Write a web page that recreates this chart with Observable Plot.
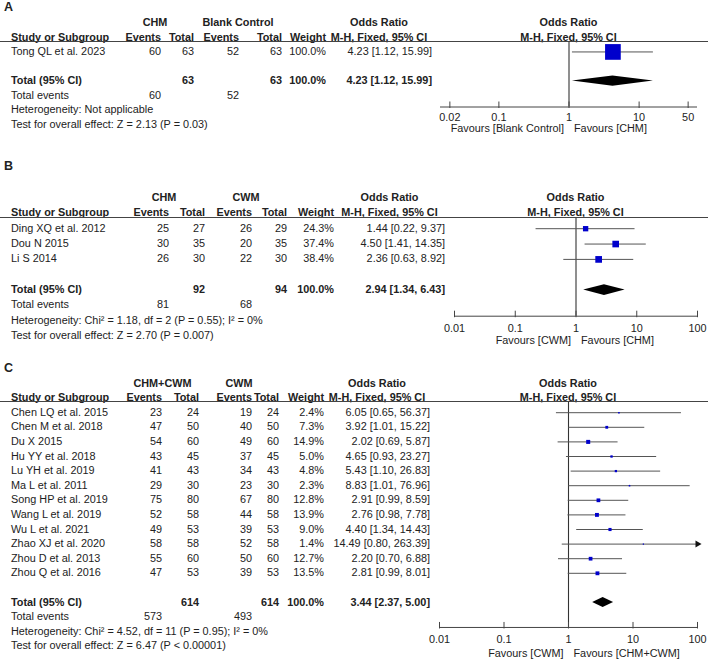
<!DOCTYPE html>
<html lang="en">
<head>
<meta charset="utf-8">
<script src="https://cdn.jsdelivr.net/npm/d3@7"></script>
<script src="https://cdn.jsdelivr.net/npm/@observablehq/plot@0.6"></script>
<style>
  html, body { margin: 0; padding: 0; background: #fff; }
  #fig { position: relative; width: 708px; height: 659px; overflow: hidden;
         font-family: "Liberation Sans", Arial, Helvetica, sans-serif; font-size: 10.85px; color: #222; }
  .panel { position: absolute; left: 0; width: 708px; }
  .panel svg { position: absolute; left: 0; top: 0; }
  .grid { position: absolute; left: 0; display: grid; width: 708px; }
  .c { white-space: nowrap; display: flex; align-items: center; }
  .r { justify-content: flex-end; }
  .m { justify-content: center; }
  .l { padding-left: 11px; }
  .b { font-weight: bold; }
  .lab { font-weight: bold; font-size: 12.5px; padding-left: 4px; }
  .hline { align-self: end; height: 0; border-bottom: 1px solid #444; margin-bottom: 2.5px; }
</style>
</head>
<body>
<div id="fig"></div>
<script>
// ================= DATA =================
// ---- Panel A : CHM vs Blank Control ----
const aLabel = "A";
const aGroups = ["CHM", "Blank Control"];
const aStudy = ["Tong QL et al. 2023"];
const aEv1 = [60];
const aN1 = [63];
const aEv2 = [52];
const aN2 = [63];
const aWeight = [100.0];
const aOR = [4.23];
const aLo = [1.12];
const aHi = [15.99];
const aPooled = [4.23, 1.12, 15.99];
const aTotalWeight = 100.0;
const aHet = "Heterogeneity: Not applicable";
const aTest = "Test for overall effect: Z = 2.13 (P = 0.03)";
const aTicks = [0.02, 0.1, 1, 10, 50];
const aFavours = ["Favours [Blank Control]", "Favours [CHM]"];

// ---- Panel B : CHM vs CWM ----
const bLabel = "B";
const bGroups = ["CHM", "CWM"];
const bStudy = ["Ding XQ et al. 2012", "Dou N 2015", "Li S 2014"];
const bEv1 = [25, 30, 26];
const bN1 = [27, 35, 30];
const bEv2 = [26, 20, 22];
const bN2 = [29, 35, 30];
const bWeight = [24.3, 37.4, 38.4];
const bOR = [1.44, 4.50, 2.36];
const bLo = [0.22, 1.41, 0.63];
const bHi = [9.37, 14.35, 8.92];
const bPooled = [2.94, 1.34, 6.43];
const bTotalWeight = 100.0;
const bHet = "Heterogeneity: Chi\u00B2 = 1.18, df = 2 (P = 0.55); I\u00B2 = 0%";
const bTest = "Test for overall effect: Z = 2.70 (P = 0.007)";
const bTicks = [0.01, 0.1, 1, 10, 100];
const bFavours = ["Favours [CWM]", "Favours [CHM]"];

// ---- Panel C : CHM+CWM vs CWM ----
const cLabel = "C";
const cGroups = ["CHM+CWM", "CWM"];
const cStudy = ["Chen LQ et al. 2015", "Chen M et al. 2018", "Du X 2015", "Hu YY et al. 2018",
  "Lu YH et al. 2019", "Ma L et al. 2011", "Song HP et al. 2019", "Wang L et al. 2019",
  "Wu L et al. 2021", "Zhao XJ et al. 2020", "Zhou D et al. 2013", "Zhou Q et al. 2016"];
const cEv1 = [23, 47, 54, 43, 41, 29, 75, 52, 49, 58, 55, 47];
const cN1 = [24, 50, 60, 45, 43, 30, 80, 58, 53, 58, 60, 53];
const cEv2 = [19, 40, 49, 37, 34, 23, 67, 44, 39, 52, 50, 39];
const cN2 = [24, 50, 60, 45, 43, 30, 80, 58, 53, 58, 60, 53];
const cWeight = [2.4, 7.3, 14.9, 5.0, 4.8, 2.3, 12.8, 13.9, 9.0, 1.4, 12.7, 13.5];
const cOR = [6.05, 3.92, 2.02, 4.65, 5.43, 8.83, 2.91, 2.76, 4.40, 14.49, 2.20, 2.81];
const cLo = [0.65, 1.01, 0.69, 0.93, 1.10, 1.01, 0.99, 0.98, 1.34, 0.80, 0.70, 0.99];
const cHi = [56.37, 15.22, 5.87, 23.27, 26.83, 76.96, 8.59, 7.78, 14.43, 263.39, 6.88, 8.01];
const cPooled = [3.44, 2.37, 5.00];
const cTotalWeight = 100.0;
const cHet = "Heterogeneity: Chi\u00B2 = 4.52, df = 11 (P = 0.95); I\u00B2 = 0%";
const cTest = "Test for overall effect: Z = 6.47 (P < 0.00001)";
const cTicks = [0.01, 0.1, 1, 10, 100];
const cFavours = ["Favours [CWM]", "Favours [CHM+CWM]"];

// ================= LAYOUT (styles only) =================
const FONT = '"Liberation Sans", Arial, Helvetica, sans-serif';
const FS = 10.85;
const layoutA = { top: 0, height: 145, y0: 22.3, pitch: 14.57, labelRow: -1,
  lineRow: 1.28, axisRow: 5.78, tickRow: 6.5, favRow: 7.25, rMax: 8.86,
  domain: [1 / 68, 68], cols: [116, 45, 33, 45, 43, 44, 106, 8, 257, 11] };
const layoutB = { top: 145, height: 200, y0: 52.5, pitch: 15.35, labelRow: -2,
  lineRow: 1.32, axisRow: 7.7, tickRow: 8.48, favRow: 9.28, rMax: 6.1,
  domain: [0.01, 100], cols: [123, 46, 36, 47, 35, 47, 111, 9, 243, 11] };
const layoutC = { top: 345, height: 314, y0: 38, pitch: 14.6, labelRow: -1,
  lineRow: 1.3, axisRow: 16.71, tickRow: 17.53, favRow: 18.49, rMax: 5.9,
  domain: [0.01, 100], cols: [126, 36, 37, 53, 27, 45, 106, 9, 258, 11] };

const fmtOR = (o, lo, hi) => `${o.toFixed(2)} [${lo.toFixed(2)}, ${hi.toFixed(2)}]`;

function makeRows(study, ev1, n1, ev2, n2, w, or, lo, hi) {
  return study.map((s, i) => ({ study: s, ev1: ev1[i], n1: n1[i], ev2: ev2[i], n2: n2[i],
    weight: w[i], or: or[i], lo: lo[i], hi: hi[i], row: i + 2 }));
}

function buildPanel(L, label, groups, rows, pooled, totalWeight, het, test, ticks, favours) {
  const fig = document.getElementById("fig");
  const panel = document.createElement("div");
  panel.className = "panel";
  panel.style.top = L.top + "px";
  panel.style.height = L.height + "px";
  fig.appendChild(panel);

  const n = rows.length;
  const totalRow = n + 3;
  const forestLeft = d3.sum(L.cols.slice(0, 8));
  const forestRight = L.cols[9];
  const xmax = L.domain[1];
  const h = 0.35;
  const diamond = [
    { x: pooled[1], y1: totalRow, y2: totalRow },
    { x: pooled[0], y1: totalRow - h, y2: totalRow + h },
    { x: pooled[2], y1: totalRow, y2: totalRow }
  ];
  const tickUp = 5 / L.pitch, tickDown = 1.5 / L.pitch;

  const svg = Plot.plot({
    width: 708, height: L.height,
    marginLeft: forestLeft, marginRight: forestRight, marginTop: 0, marginBottom: 0,
    style: { fontFamily: FONT, fontSize: FS + "px", background: "transparent", overflow: "visible" },
    x: { type: "log", domain: L.domain, axis: null },
    y: { domain: [-L.y0 / L.pitch, (L.height - L.y0) / L.pitch], reverse: true, axis: null },
    r: { domain: [0, 100], range: [0, L.rMax] },
    marks: [
      Plot.ruleX([1], { y1: L.lineRow, y2: L.axisRow, stroke: "#333", strokeWidth: 1.1 }),
      Plot.ruleY([L.axisRow], { stroke: "#444" }),
      Plot.ruleX(ticks, { x: d => d, y1: L.axisRow - tickUp, y2: L.axisRow + tickDown, stroke: "#444" }),
      Plot.text(ticks, { x: d => d, y: L.tickRow, text: d => String(d), fill: "#222", fontSize: FS }),
      Plot.text([favours[0]], { x: () => 1, y: L.favRow, text: d => d, textAnchor: "end", dx: -5, fill: "#222", fontSize: FS }),
      Plot.text([favours[1]], { x: () => 1, y: L.favRow, text: d => d, textAnchor: "start", dx: 5, fill: "#222", fontSize: FS }),
      Plot.ruleY(rows, { y: "row", x1: "lo", x2: d => Math.min(d.hi, xmax), stroke: "#555" }),
      Plot.dot(rows, { x: "or", y: "row", r: "weight", symbol: "square", fill: "#0000cc" }),
      Plot.dot(rows.filter(d => d.hi > xmax), { x: () => xmax, y: "row", symbol: "triangle", rotate: 90, r: 2.6, fill: "#111" }),
      Plot.areaY(diamond, { x: "x", y1: "y1", y2: "y2", fill: "#000", curve: "linear" })
    ]
  });
  panel.appendChild(svg);

  // table text
  const g = document.createElement("div");
  g.className = "grid";
  const rMin = L.labelRow;
  g.style.top = (L.y0 - L.pitch / 2 + rMin * L.pitch) + "px";
  g.style.gridTemplateColumns = L.cols.map(w => w + "px").join(" ");
  g.style.gridAutoRows = L.pitch + "px";
  g.style.lineHeight = L.pitch + "px";
  panel.appendChild(g);
  const add = (text, row, c1, c2, cls) => {
    const e = document.createElement("div");
    e.textContent = text;
    e.className = cls;
    e.style.gridRow = String(row - rMin + 1);
    e.style.gridColumn = c1 + " / " + c2;
    g.appendChild(e);
    return e;
  };
  add(label, rMin, 1, 2, "c lab");
  // header rows
  add(groups[0], 0, 2, 4, "c m b");
  add(groups[1], 0, 4, 6, "c m b");
  add("Odds Ratio", 0, 7, 8, "c m b");
  add("Odds Ratio", 0, 9, 10, "c m b");
  add("Study or Subgroup", 1, 1, 2, "c l b");
  add("Events", 1, 2, 3, "c r b");
  add("Total", 1, 3, 4, "c r b");
  add("Events", 1, 4, 5, "c r b");
  add("Total", 1, 5, 6, "c r b");
  add("Weight", 1, 6, 7, "c r b");
  add("M-H, Fixed, 95% CI", 1, 7, 8, "c m b");
  add("M-H, Fixed, 95% CI", 1, 9, 10, "c m b");
  add("", 1, 1, 11, "hline");
  // studies
  rows.forEach(d => {
    add(d.study, d.row, 1, 2, "c l");
    add(String(d.ev1), d.row, 2, 3, "c r");
    add(String(d.n1), d.row, 3, 4, "c r");
    add(String(d.ev2), d.row, 4, 5, "c r");
    add(String(d.n2), d.row, 5, 6, "c r");
    add(d.weight.toFixed(1) + "%", d.row, 6, 7, "c r");
    add(fmtOR(d.or, d.lo, d.hi), d.row, 7, 8, "c r");
  });
  // totals
  add("Total (95% CI)", totalRow, 1, 2, "c l b");
  add(String(d3.sum(rows, d => d.n1)), totalRow, 3, 4, "c r b");
  add(String(d3.sum(rows, d => d.n2)), totalRow, 5, 6, "c r b");
  add(totalWeight.toFixed(1) + "%", totalRow, 6, 7, "c r b");
  add(fmtOR(pooled[0], pooled[1], pooled[2]), totalRow, 7, 8, "c r b");
  add("Total events", totalRow + 1, 1, 2, "c l");
  add(String(d3.sum(rows, d => d.ev1)), totalRow + 1, 2, 3, "c r");
  add(String(d3.sum(rows, d => d.ev2)), totalRow + 1, 4, 5, "c r");
  add(het, totalRow + 2, 1, 8, "c l");
  add(test, totalRow + 3, 1, 8, "c l");
}

buildPanel(layoutA, aLabel, aGroups,
  makeRows(aStudy, aEv1, aN1, aEv2, aN2, aWeight, aOR, aLo, aHi),
  aPooled, aTotalWeight, aHet, aTest, aTicks, aFavours);
buildPanel(layoutB, bLabel, bGroups,
  makeRows(bStudy, bEv1, bN1, bEv2, bN2, bWeight, bOR, bLo, bHi),
  bPooled, bTotalWeight, bHet, bTest, bTicks, bFavours);
buildPanel(layoutC, cLabel, cGroups,
  makeRows(cStudy, cEv1, cN1, cEv2, cN2, cWeight, cOR, cLo, cHi),
  cPooled, cTotalWeight, cHet, cTest, cTicks, cFavours);
</script>
</body>
</html>
